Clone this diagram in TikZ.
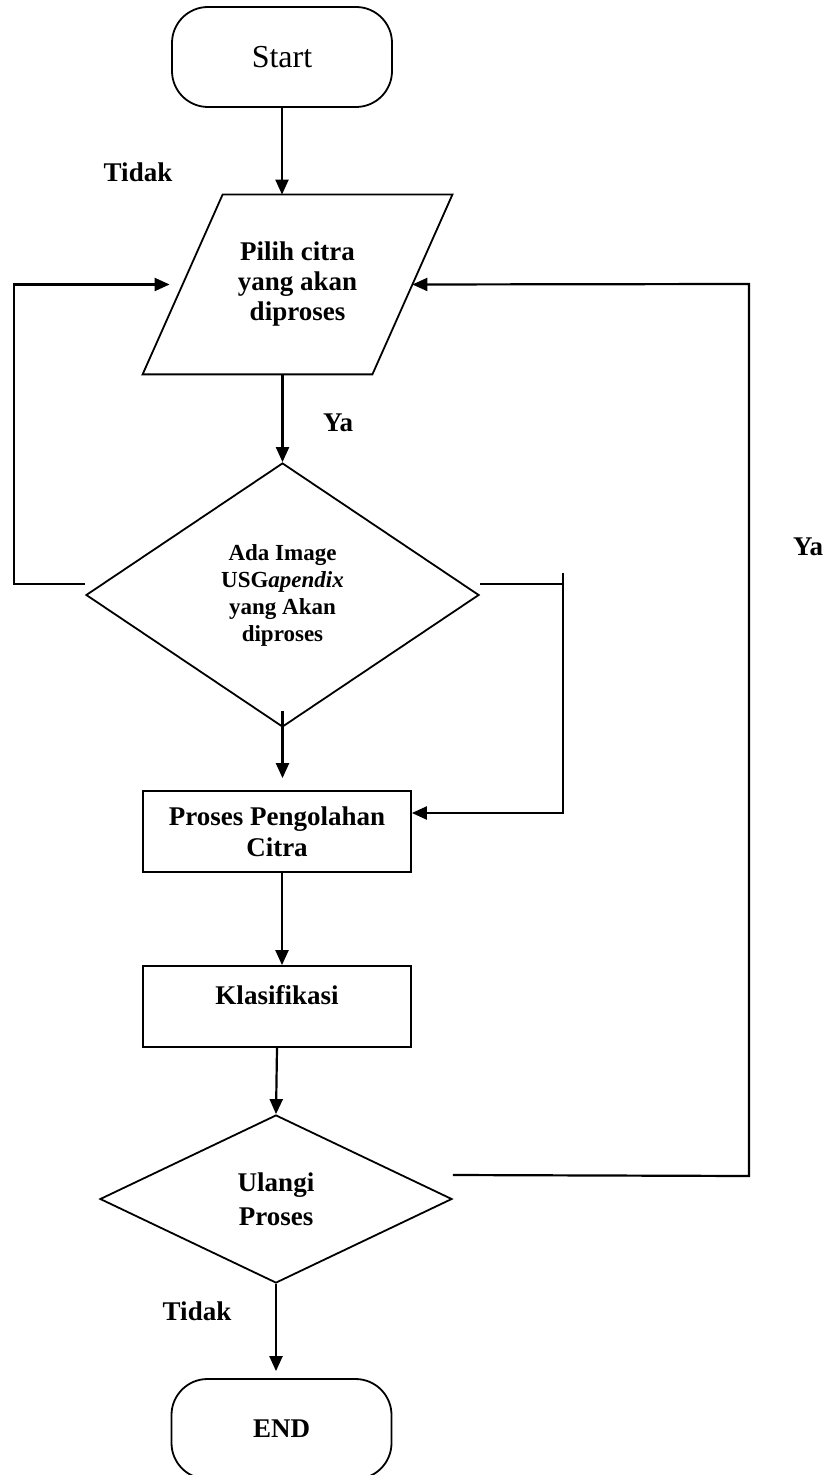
\documentclass[tikz,border=0pt]{standalone}
\usepackage{fontspec}
\setmainfont{Liberation Serif}
\usetikzlibrary{positioning,shapes.geometric,arrows.meta}

\begin{document}
\begin{tikzpicture}[x=0.5pt, y=-0.5pt, >={Triangle[length=7.5pt,width=6.5pt]},
  terminal/.style={draw,line width=0.9pt,rounded corners=18pt,
    minimum width=110pt,minimum height=50pt,inner sep=0pt},
  inout/.style={minimum width=114.5pt,minimum height=89.5pt,inner sep=0pt,
    align=center,font=\bfseries\fontsize{13.5}{15}\selectfont},
  decision/.style={draw,line width=0.9pt,diamond,inner sep=0pt,align=center},
  process/.style={draw,line width=0.9pt,minimum width=134pt,minimum height=40.5pt,
    inner sep=0pt,align=center,font=\bfseries\fontsize{13.5}{15.5}\selectfont},
  flow/.style={->,line width=1.1pt},
  loop/.style={line width=0.9pt},
  answer/.style={font=\bfseries\fontsize{13.5}{15}\selectfont}]

  \useasboundingbox (0,0) rectangle (830,1475);
  \clip (0,0) rectangle (830,1475);

  % Draw the steps
  \node[terminal,font=\fontsize{16}{18}\selectfont] (start) at (282,57) {Start};
  \node[inout] (pilih) at (297.5,284.5) {Pilih citra\\yang akan\\diproses};
  \draw[line width=0.9pt] ([xshift=-20pt]pilih.south west) -- ([xshift=20pt]pilih.north west)
    -- ([xshift=20pt]pilih.north east) -- ([xshift=-20pt]pilih.south east) -- cycle;
  \node[decision,minimum width=196.5pt,minimum height=132pt,
    font=\bfseries\fontsize{11.5}{13.5}\selectfont] (ada) at (282.5,595)
    {Ada Image\\USG\textit{apendix}\\yang Akan\\diproses};
  \node[process] (olah) at (277,831.5) {Proses Pengolahan\\Citra};
  \node[process,text height=9.5pt,text depth=12pt] (klas) at (277,1006.5) {Klasifikasi};
  \node[decision,minimum width=176pt,minimum height=84pt,
    font=\bfseries\fontsize{13.5}{17}\selectfont] (ulangi) at (276,1199)
    {Ulangi\\Proses};
  \node[terminal,font=\bfseries\fontsize{13.5}{15}\selectfont] (end) at (281.5,1429) {END};

  % Corners of the loops
  \coordinate (kiri) at (14,584);
  \coordinate (tengahA) at (563,573);
  \coordinate (tengahB) at (563,813);
  \coordinate (kananA) at (749,1176);
  \coordinate (kananB) at (749,284);

  % Draw the main flow
  \draw[flow] (start.south) -- (start.south |- pilih.north);
  \draw[flow] (ada.north |- pilih.south) -- (ada.north);
  \draw[flow] ([yshift=8.5pt]ada.south) -- ([yshift=6pt]ada.south |- olah.north);
  \draw[flow] ([xshift=2.5pt]olah.south) -- ([xshift=2.5pt]klas.north);
  \draw[flow] (klas.south) -- (ulangi.north);
  \draw[flow] (ulangi.south) -- ([yshift=3.5pt]ulangi.south |- end.north);

  % Draw the loops
  \draw[flow] ([yshift=5.5pt]ada.west) -- (kiri) |- ([xshift=-6.5pt]pilih.west);
  \draw[loop] ([yshift=5.5pt]ada.east) -- (tengahA |- kiri);
  \draw[flow] (tengahA) -- (tengahB) -- ([yshift=9.25pt]olah.east);
  \draw[flow] ([yshift=12pt]ulangi.east) -- (kananA) -- (kananB) -- (pilih.east);

  % Labels
  \node[answer] (tidakA) at (138,172) {Tidak};
  \node[answer] (yaA) at (338,423) {Ya};
  \node[answer] (yaB) at (808,547) {Ya};
  \node[answer] (tidakB) at (197,1311) {Tidak};

\end{tikzpicture}
\end{document}
